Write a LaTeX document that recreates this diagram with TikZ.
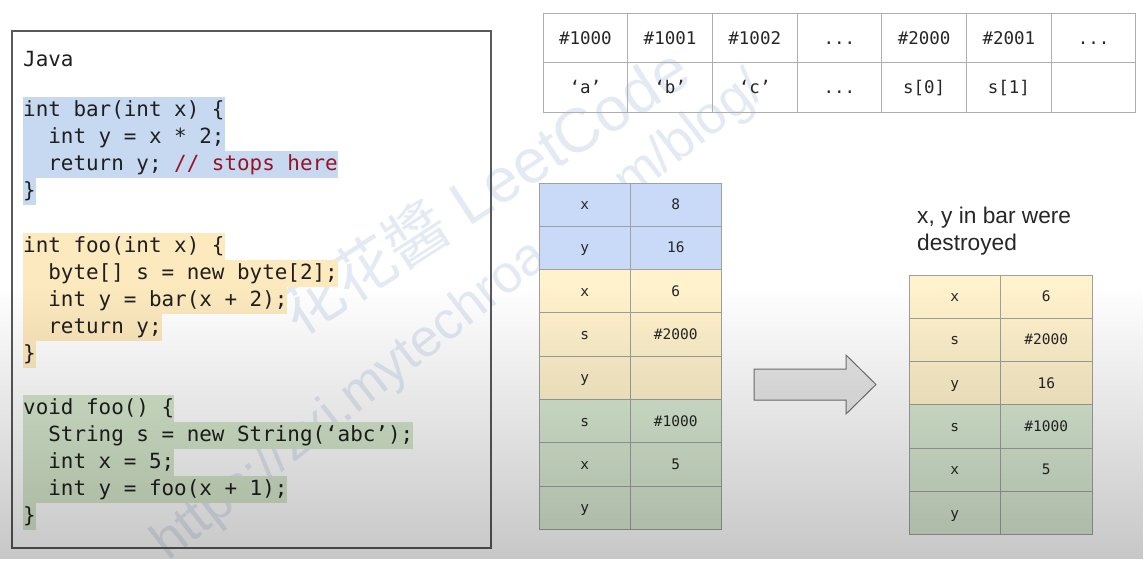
\documentclass[tikz,border=0pt]{standalone}
\usepackage{fontspec}
\setmainfont{Liberation Sans}
\newfontfamily\codefont{DejaVu Sans Mono}
\newfontfamily\cjk{Noto Sans CJK SC}
\usetikzlibrary{fadings}
\definecolor{hlblue}{RGB}{198,217,240}
\definecolor{hlyellow}{RGB}{253,233,190}
\definecolor{hlgreen}{RGB}{214,231,204}
\definecolor{stblue}{RGB}{201,218,248}
\definecolor{styellow}{RGB}{255,242,204}
\definecolor{stgreen}{RGB}{217,234,211}
\definecolor{gridgray}{RGB}{160,160,160}
\definecolor{comment}{RGB}{150,20,35}
\definecolor{wmark}{RGB}{165,188,220}
\definecolor{arrowgray}{RGB}{232,232,232}
\tikzfading[name=vfade, top color=transparent!100, bottom color=transparent!78]
\frenchspacing
\begin{document}
\begin{tikzpicture}[x=1pt,y=-1pt,
  codeline/.style={anchor=north west, inner sep=0pt, text height=19pt, text depth=8pt,
    font=\codefont\fontsize{20.9}{27}\selectfont, text=black!88},
  cell/.style={draw=gridgray, line width=1pt, minimum width=91.5pt, minimum height=43.3pt,
    inner sep=0pt, text height=13pt, text depth=3pt,
    font=\codefont\fontsize{14.5}{17}\selectfont, text=black!85},
  tcell/.style={draw=gridgray!85, line width=0.9pt, minimum width=84.7pt, minimum height=49.5pt,
    inner sep=0pt, text height=14.6pt, text depth=2pt,
    font=\codefont\fontsize{17.5}{20}\selectfont, text=black!85},
  wm/.style={inner sep=0pt, text=wmark, opacity=0.3}
]
\fill[white] (0,0) rectangle (1145,559);

% watermark (behind everything)
\node[wm, anchor=base west, rotate=33, font=\fontsize{62}{62}\selectfont] (wm1) at (298,338) {{\cjk 花花醬} LeetCode};
\node[wm, anchor=base west, rotate=38, font=\fontsize{53}{53}\selectfont] (wm2) at (168,562) {https://zxi.mytechroad.com/blog/};

% code box
\draw[draw=black!65, line width=1.5pt] (12,31) rectangle (491,548);
\node[codeline] (java) at (23,47) {Java};
\node[codeline, fill=hlblue] (b1) at (23,97) {int bar(int x) \{};
\node[codeline, fill=hlblue] (b2) at (23,124) {\hphantom{xx}int y = x * 2;};
\node[codeline, fill=hlblue] (b3) at (23,151) {\hphantom{xx}return y; \textcolor{comment}{// stops here}};
\node[codeline, fill=hlblue] (b4) at (23,178) {\}};
\node[codeline, fill=hlyellow] (y1) at (23,233) {int foo(int x) \{};
\node[codeline, fill=hlyellow] (y2) at (23,260) {\hphantom{xx}byte[] s = new byte[2];};
\node[codeline, fill=hlyellow] (y3) at (23,287) {\hphantom{xx}int y = bar(x + 2);};
\node[codeline, fill=hlyellow] (y4) at (23,314) {\hphantom{xx}return y;};
\node[codeline, fill=hlyellow] (y5) at (23,341) {\}};
\node[codeline, fill=hlgreen] (g1) at (23,395) {void foo() \{};
\node[codeline, fill=hlgreen] (g2) at (23,422) {\hphantom{xx}String s = new String(‘abc’);};
\node[codeline, fill=hlgreen] (g3) at (23,449) {\hphantom{xx}int x = 5;};
\node[codeline, fill=hlgreen] (g4) at (23,476) {\hphantom{xx}int y = foo(x + 1);};
\node[codeline, fill=hlgreen] (g5) at (23,503) {\}};

% heap table
\node[tcell] (h1a) at (585.35,37.75) {\#1000};
\node[tcell] (h2a) at (670.05,37.75) {\#1001};
\node[tcell] (h3a) at (754.75,37.75) {\#1002};
\node[tcell] (h4a) at (839.45,37.75) {...};
\node[tcell] (h5a) at (924.15,37.75) {\#2000};
\node[tcell] (h6a) at (1008.85,37.75) {\#2001};
\node[tcell] (h7a) at (1093.55,37.75) {...};
\node[tcell] (h1b) at (585.35,87.25) {‘a’};
\node[tcell] (h2b) at (670.05,87.25) {‘b’};
\node[tcell] (h3b) at (754.75,87.25) {‘c’};
\node[tcell] (h4b) at (839.45,87.25) {...};
\node[tcell] (h5b) at (924.15,87.25) {s[0]};
\node[tcell] (h6b) at (1008.85,87.25) {s[1]};
\node[tcell] (h7b) at (1093.55,87.25) {};

% left stack
\node[cell, fill=stblue] (l1a) at (584.75,204.65) {x};
\node[cell, fill=stblue] (l1b) at (675.75,204.65) {8};
\node[cell, fill=stblue] (l2a) at (584.75,247.95) {y};
\node[cell, fill=stblue] (l2b) at (675.75,247.95) {16};
\node[cell, fill=styellow] (l3a) at (584.75,291.25) {x};
\node[cell, fill=styellow] (l3b) at (675.75,291.25) {6};
\node[cell, fill=styellow] (l4a) at (584.75,334.55) {s};
\node[cell, fill=styellow] (l4b) at (675.75,334.55) {\#2000};
\node[cell, fill=styellow] (l5a) at (584.75,377.85) {y};
\node[cell, fill=styellow] (l5b) at (675.75,377.85) {};
\node[cell, fill=stgreen] (l6a) at (584.75,421.15) {s};
\node[cell, fill=stgreen] (l6b) at (675.75,421.15) {\#1000};
\node[cell, fill=stgreen] (l7a) at (584.75,464.45) {x};
\node[cell, fill=stgreen] (l7b) at (675.75,464.45) {5};
\node[cell, fill=stgreen] (l8a) at (584.75,507.75) {y};
\node[cell, fill=stgreen] (l8b) at (675.75,507.75) {};

% arrow
\draw[fill=arrowgray, draw=black!55, line width=1pt, line join=miter]
  (754,369) -- (846,369) -- (846,355) -- (876,384.5) -- (846,414) -- (846,400) -- (754,400) -- cycle;

% right stack
\node[anchor=north west, align=left, inner sep=0pt, text=black!85,
  font=\fontsize{22.7}{27}\selectfont] (lbl) at (917,207) {x, y in bar were\\destroyed};
\node[cell, fill=styellow] (r1a) at (954.75,296.65) {x};
\node[cell, fill=styellow] (r1b) at (1046.25,296.65) {6};
\node[cell, fill=styellow] (r2a) at (954.75,339.95) {s};
\node[cell, fill=styellow] (r2b) at (1046.25,339.95) {\#2000};
\node[cell, fill=styellow] (r3a) at (954.75,383.25) {y};
\node[cell, fill=styellow] (r3b) at (1046.25,383.25) {16};
\node[cell, fill=stgreen] (r4a) at (954.75,426.55) {s};
\node[cell, fill=stgreen] (r4b) at (1046.25,426.55) {\#1000};
\node[cell, fill=stgreen] (r5a) at (954.75,469.85) {x};
\node[cell, fill=stgreen] (r5b) at (1046.25,469.85) {5};
\node[cell, fill=stgreen] (r6a) at (954.75,513.15) {y};
\node[cell, fill=stgreen] (r6b) at (1046.25,513.15) {};

% bottom shading
\fill[black, path fading=vfade] (0,285) rectangle (1145,559);
\useasboundingbox (0,0) rectangle (1145,559);
\end{tikzpicture}
\end{document}
